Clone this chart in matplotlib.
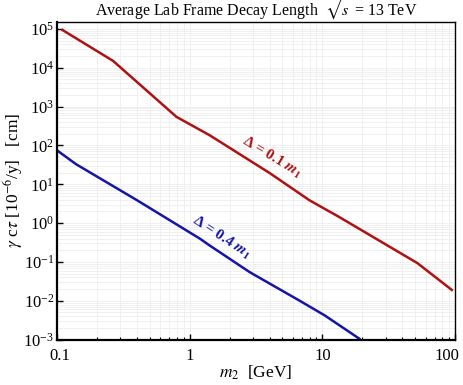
import numpy as np
import matplotlib
matplotlib.use("Agg")
import matplotlib.pyplot as plt
import matplotlib.transforms as mtransforms
from matplotlib.ticker import LogLocator, NullFormatter

plt.rcParams['font.family'] = ['Liberation Serif', 'DejaVu Serif']
plt.rcParams['mathtext.fontset'] = 'stix'

# curve for Delta = 0.1 m1
m2_red = [0.11, 0.265, 0.794, 1.41, 4.0, 8.0, 13.4, 52.0, 94.4]
ct_red = [9.4e4, 1.5e4, 546, 184, 19.5, 3.86, 1.43, 0.093, 0.019]

# curve for Delta = 0.4 m1
m2_blue = [0.1, 0.139, 0.40, 1.19, 1.41, 2.83, 6.71, 10.4, 19.0]
ct_blue = [75, 33, 3.9, 0.40, 0.267, 0.0546, 0.0101, 0.0042, 1.05e-3]

xticks = [0.1, 1, 10, 100]
xticklabels = ['0.1', '1', '10', '100']

red = '#b01010'
blue = '#1414aa'

fig = plt.figure(figsize=(4.63, 3.85), dpi=100)
ax = fig.add_axes([0.123, 0.118, 0.860, 0.826])

ax.plot(m2_red, ct_red, color=red, lw=1.8)
ax.plot(m2_blue, ct_blue, color=blue, lw=1.8)

ax.set_xscale('log')
ax.set_yscale('log')
ax.set_xlim(0.1, 100)
ax.set_ylim(1e-3, 10**5.19)

# faint grid at major and minor positions
ax.grid(True, which='both', color='#eeeeee', lw=0.6)
ax.set_axisbelow(True)

ax.xaxis.set_minor_locator(LogLocator(base=10, subs=np.arange(2, 10)))
ax.xaxis.set_minor_formatter(NullFormatter())
ax.yaxis.set_minor_locator(LogLocator(base=10, subs=np.arange(2, 10), numticks=20))
ax.yaxis.set_minor_formatter(NullFormatter())
ax.yaxis.set_major_locator(LogLocator(base=10, numticks=20))
ax.set_xticks(xticks)
ax.set_xticklabels(xticklabels)

ax.tick_params(which='major', direction='in', length=4, width=1, labelsize=12,
               top=False, right=False)
ax.tick_params(axis='x', which='major', pad=6)
ax.tick_params(axis='y', which='major', pad=2)
ax.tick_params(axis='x', which='minor', direction='in', length=2.5, width=0.8, top=False)
ax.tick_params(axis='y', which='minor', length=0, left=False, right=False)

# shift the outermost x labels inward so they fit like the reference
lbls = ax.get_xticklabels()
lbls[-1].set_transform(lbls[-1].get_transform() +
                       mtransforms.ScaledTranslation(-6 / 72, 0, fig.dpi_scale_trans))
lbls[0].set_transform(lbls[0].get_transform() +
                      mtransforms.ScaledTranslation(2 / 72, 0, fig.dpi_scale_trans))

for s in ['left', 'bottom']:
    ax.spines[s].set_linewidth(1.6)
for s in ['top', 'right']:
    ax.spines[s].set_linewidth(1.0)

ax.set_title(r'Average Lab Frame Decay Length  $\sqrt{s}$ = 13 TeV', fontsize=11.5, pad=3)
ax.set_xlabel(r'$m_2$  [GeV]', fontsize=12.5)
ax.set_ylabel(r'$\gamma$ c$\tau$ [10$^{-6}$/y]   [cm]', fontsize=12.5)
ax.xaxis.set_label_coords(0.5, -0.075)
ax.yaxis.set_label_coords(-0.080, 0.5)

ax.text(4.2, 50, r'Δ = 0.1 $\boldsymbol{m}_\mathbf{1}$', fontweight='bold',
        color=red, fontsize=11, rotation=-31, ha='center', va='center')
ax.text(1.74, 0.43, r'Δ = 0.4 $\boldsymbol{m}_\mathbf{1}$', fontweight='bold',
        color=blue, fontsize=11, rotation=-33, ha='center', va='center')

fig.savefig('out.png', dpi=100)
